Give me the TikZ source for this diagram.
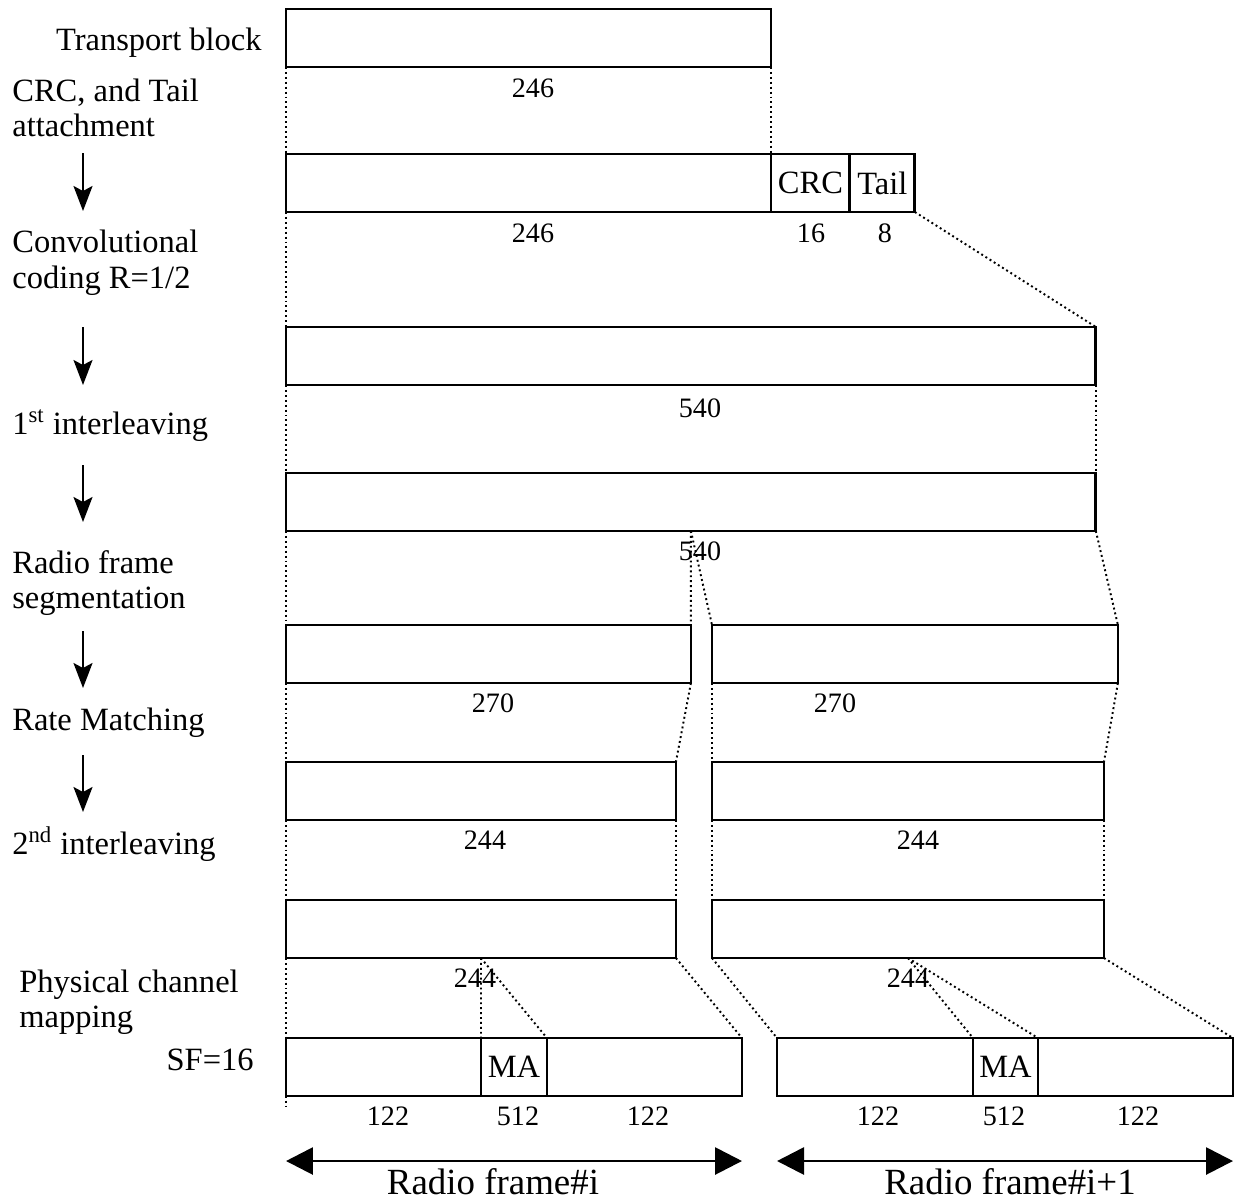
\documentclass[tikz,border=0pt]{standalone}
\usepackage{fontspec}
\setmainfont{Liberation Serif}
\usetikzlibrary{arrows.meta}

\begin{document}
\begin{tikzpicture}[
   x=0.02cm, y=-0.02cm,
   blk/.style={rectangle, draw=black, line width=1.6pt, anchor=north west,
               inner sep=0pt, outer sep=0pt, minimum height=1.16cm,
               font=\fontsize{18.5}{22}\selectfont},
   lbl/.style={anchor=base west, inner sep=0pt,
               font=\fontsize{18.5}{22}\selectfont},
   num/.style={inner sep=0pt, font=\fontsize{16}{19}\selectfont},
   frm/.style={inner sep=0pt, font=\fontsize{21}{25}\selectfont},
   guide/.style={line width=1.1pt, dash pattern=on 1.1pt off 1.7pt},
   flow/.style={->, >={Stealth[length=0.5cm, width=0.38cm, inset=0.1cm]},
                line width=1.2pt},
   frameline/.style={<->, >={Triangle[length=0.54cm, width=0.54cm]},
                     line width=1.6pt}
  ]

  \useasboundingbox (0, 0) rectangle (1236, 1203);

  % Processing steps
  \node (tbk) at (262, 51) [lbl, anchor=base east] {Transport block};
  \node (crca) at (12, 101) [lbl] {CRC, and Tail};
  \node (crcb) at (12, 136) [lbl] {attachment};
  \node (cvca) at (12, 252) [lbl] {Convolutional};
  \node (cvcb) at (12, 288) [lbl] {coding R=1/2};
  \node (ilv1) at (12, 434) [lbl] {1\textsuperscript{st} interleaving};
  \node (rfsa) at (12, 573) [lbl] {Radio frame};
  \node (rfsb) at (12, 608) [lbl] {segmentation};
  \node (rmt) at (12, 730) [lbl] {Rate Matching};
  \node (ilv2) at (12, 854) [lbl] {2\textsuperscript{nd} interleaving};
  \node (phya) at (19, 992) [lbl] {Physical channel};
  \node (phyb) at (19, 1027) [lbl] {mapping};
  \node (sf) at (254, 1070) [lbl, anchor=base east] {SF=16};

  \foreach \i/\t/\b in {1/153/211, 2/327/385, 3/465/522, 4/631/688, 5/755/812} {
    \coordinate (s\i) at (83, \t);
    \coordinate (e\i) at (83, \b);
    \draw[flow] (s\i) -- (e\i);
  }

  % Blocks
  \node (tb) at (286, 9) [blk, minimum width=9.7cm] {};
  \node at (533, 88) [num] {246};

  \node (d2) at (286, 154) [blk, minimum width=9.7cm] {};
  \node (crc) at (d2.north east) [blk, minimum width=1.58cm] {CRC};
  \node (tail) at (crc.north east) [blk, minimum width=1.3cm] {Tail};
  \node at (533, 233) [num] {246};
  \node at (811, 233) [num] {16};
  \node at (885, 233) [num] {8};

  \node (c3) at (286, 327) [blk, minimum width=16.2cm] {};
  \node at (700, 408) [num] {540};

  \node (i4) at (286, 473) [blk, minimum width=16.2cm] {};
  \node at (700, 551) [num] {540};

  \node (s5a) at (286, 625) [blk, minimum width=8.1cm] {};
  \node (s5b) at (712, 625) [blk, minimum width=8.12cm] {};
  \node at (493, 703) [num] {270};
  \node at (835, 703) [num] {270};

  \node (r6a) at (286, 762) [blk, minimum width=7.8cm] {};
  \node (r6b) at (712, 762) [blk, minimum width=7.84cm] {};
  \node at (485, 840) [num] {244};
  \node at (918, 840) [num] {244};

  \node (p7a) at (286, 900) [blk, minimum width=7.8cm] {};
  \node (p7b) at (712, 900) [blk, minimum width=7.84cm] {};
  \node at (475, 978) [num] {244};
  \node at (908, 978) [num] {244};

  \node (la) at (286, 1038) [blk, minimum width=3.9cm] {};
  \node (ma) at (la.north east) [blk, minimum width=1.32cm] {MA};
  \node (ra) at (ma.north east) [blk, minimum width=3.9cm] {};
  \node (lb) at (777, 1038) [blk, minimum width=3.92cm] {};
  \node (mb) at (lb.north east) [blk, minimum width=1.3cm] {MA};
  \node (rb) at (mb.north east) [blk, minimum width=3.9cm] {};
  \foreach \x/\t in {388/122, 518/512, 648/122, 878/122, 1004/512, 1138/122} {
    \node at (\x, 1116) [num] {\t};
  }
  \coordinate (la0) at (286, 1107);

  % Dotted guides
  \foreach \B/\E in {tb.south west/d2.north west, tb.south east/crc.north west,
                     d2.south west/c3.north west, tail.south east/c3.north east,
                     c3.south west/i4.north west, c3.south east/i4.north east,
                     i4.south west/s5a.north west, i4.south/s5a.north east,
                     i4.south/s5b.north west, i4.south east/s5b.north east,
                     s5a.south west/r6a.north west, s5a.south east/r6a.north east,
                     s5b.south west/r6b.north west, s5b.south east/r6b.north east,
                     r6a.south west/p7a.north west, r6a.south east/p7a.north east,
                     r6b.south west/p7b.north west, r6b.south east/p7b.north east,
                     p7a.south west/la0, p7a.south/ma.north west,
                     p7a.south/ma.north east, p7a.south east/ra.north east,
                     p7b.south west/lb.north west, p7b.south/mb.north west,
                     p7b.south/mb.north east, p7b.south east/rb.north east} {
    \draw[guide] (\B) -- (\E);
  }

  % Radio frames
  \coordinate (fa0) at (286, 1161);
  \coordinate (fa1) at (742, 1161);
  \coordinate (fb0) at (777, 1161);
  \coordinate (fb1) at (1233, 1161);
  \draw[frameline] (fa0) -- (fa1);
  \draw[frameline] (fb0) -- (fb1);
  \node (rfi) at (493, 1182) [frm] {Radio frame\#i};
  \node (rfj) at (1010, 1182) [frm] {Radio frame\#i+1};

\end{tikzpicture}
\end{document}
